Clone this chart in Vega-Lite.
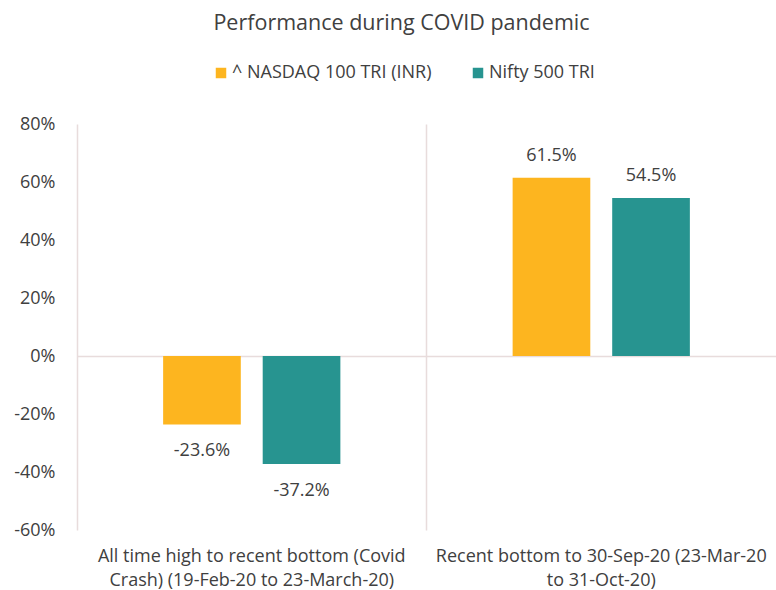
{
  "$schema": "https://vega.github.io/schema/vega-lite/v6.json",
  "autosize": {"type": "none"},
  "padding": {"left": 77, "top": 124, "right": 0, "bottom": 60},
  "width": 699,
  "height": 406,
  "background": "white",
  "config": {
    "font": "Open Sans",
    "view": {"stroke": null}
  },
  "title": {
    "text": "Performance during COVID pandemic",
    "fontSize": 21.5,
    "fontWeight": "normal",
    "color": "#404040",
    "font": "Open Sans",
    "anchor": "middle",
    "frame": "group",
    "dx": -25,
    "offset": 30
  },
  "data": {
    "values": [
      {"period": "All time high to recent bottom (Covid Crash) (19-Feb-20 to 23-March-20)", "series": "^ NASDAQ 100 TRI (INR)", "value": -0.236},
      {"period": "All time high to recent bottom (Covid Crash) (19-Feb-20 to 23-March-20)", "series": "Nifty 500 TRI", "value": -0.372},
      {"period": "Recent bottom to 30-Sep-20 (23-Mar-20 to 31-Oct-20)", "series": "^ NASDAQ 100 TRI (INR)", "value": 0.615},
      {"period": "Recent bottom to 30-Sep-20 (23-Mar-20 to 31-Oct-20)", "series": "Nifty 500 TRI", "value": 0.545}
    ]
  },
  "encoding": {
    "x": {
      "field": "period",
      "type": "nominal",
      "sort": null,
      "scale": {"paddingInner": 0, "paddingOuter": 0},
      "axis": {
        "title": null,
        "labelAngle": 0,
        "ticks": false,
        "domain": false,
        "grid": true,
        "bandPosition": 0,
        "gridColor": "#E8DCDC",
        "gridWidth": 1.5,
        "labelFont": "Open Sans",
        "labelFontSize": 18,
        "labelColor": "#404040",
        "labelPadding": 17,
        "labelBaseline": "top",
        "labelLineHeight": 24,
        "labelLimit": 400,
        "labelExpr": "datum.value == 'Recent bottom to 30-Sep-20 (23-Mar-20 to 31-Oct-20)' ? ['Recent bottom to 30-Sep-20 (23-Mar-20', 'to 31-Oct-20)'] : ['All time high to recent bottom (Covid', 'Crash) (19-Feb-20 to 23-March-20)']"
      }
    },
    "xOffset": {
      "field": "series",
      "type": "nominal",
      "sort": null,
      "scale": {"paddingInner": 0.22, "paddingOuter": 0.865}
    },
    "y": {
      "field": "value",
      "type": "quantitative",
      "scale": {"domain": [-0.6, 0.8], "nice": false, "zero": false},
      "axis": {
        "title": null,
        "format": ".0%",
        "labelExpr": "replace(datum.label, '\u2212', '-')",
        "values": [-0.6, -0.4, -0.2, 0, 0.2, 0.4, 0.6, 0.8],
        "ticks": false,
        "domain": false,
        "grid": true,
        "gridColor": {"condition": {"test": "datum.value === 0", "value": "#E8DCDC"}, "value": "transparent"},
        "gridWidth": 1.5,
        "labelFont": "Open Sans",
        "labelFontSize": 18,
        "labelColor": "#404040",
        "labelPadding": 22
      }
    }
  },
  "layer": [
    {
      "mark": {"type": "bar"},
      "encoding": {
        "color": {
          "field": "series",
          "type": "nominal",
          "sort": null,
          "scale": {"domain": ["^ NASDAQ 100 TRI (INR)", "Nifty 500 TRI"], "range": ["#FDB51F", "#279490"]},
          "legend": {
            "title": null,
            "orient": "none",
            "direction": "horizontal",
            "legendX": 135,
            "legendY": -60,
            "symbolType": "square",
            "symbolSize": 110,
            "symbolStrokeWidth": 0,
            "labelFont": "Open Sans",
            "labelFontSize": 18,
            "labelColor": "#404040",
            "labelOffset": 2,
            "columnPadding": 37,
            "labelLimit": 300
          }
        }
      }
    },
    {
      "transform": [{"filter": "datum.value >= 0"}],
      "mark": {"type": "text", "baseline": "bottom", "dy": -13, "fontSize": 18, "color": "#404040", "font": "Open Sans", "text": {"expr": "replace(format(datum.value, '.1%'), '\u2212', '-')"}},
      "encoding": {}
    },
    {
      "transform": [{"filter": "datum.value < 0"}],
      "mark": {"type": "text", "baseline": "top", "dy": 18, "fontSize": 18, "color": "#404040", "font": "Open Sans", "text": {"expr": "replace(format(datum.value, '.1%'), '\u2212', '-')"}},
      "encoding": {}
    }
  ]
}
